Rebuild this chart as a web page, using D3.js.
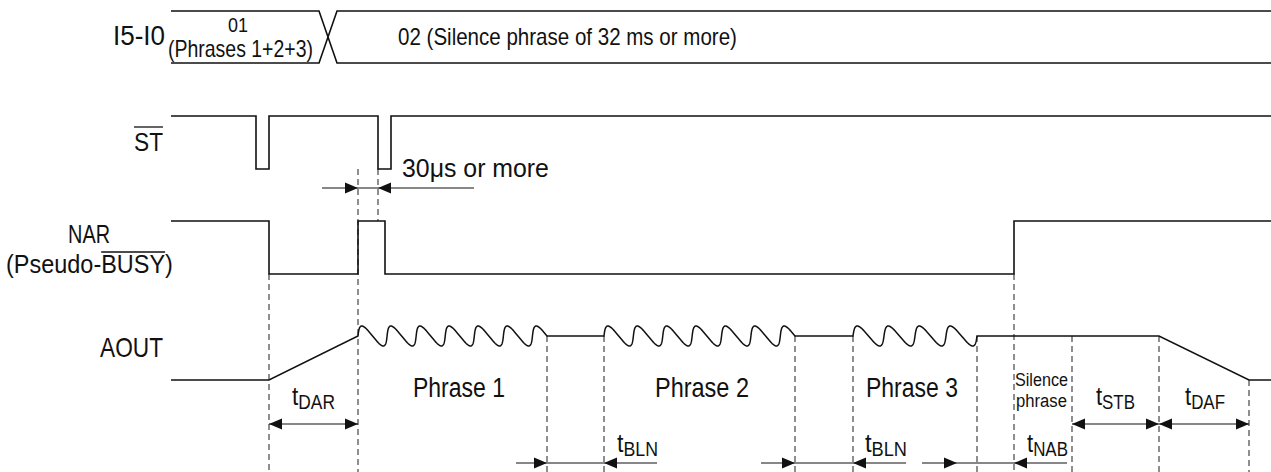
<!DOCTYPE html>
<html>
<head>
<meta charset="utf-8">
<script src="https://cdn.jsdelivr.net/npm/d3@7"></script>
<style>
  html, body { margin: 0; padding: 0; background: #fff; }
  svg { display: block; }
  text { font-family: "Liberation Sans", Arial, sans-serif; fill: #111; }
</style>
</head>
<body>
<svg id="chart" width="1271" height="472"></svg>
<script>
// time runs in arbitrary units along the diagram
var busChanges = [157];
var busLabels = ["01", "(Phrases 1+2+3)", "02 (Silence phrase of 32 ms or more)"];
var stLevels = [[0, 1], [85, 0], [98, 1], [207, 0], [220, 1], [1100, 1]];
var narLevels = [[0, 1], [98, 0], [187, 1], [214, 0], [843, 1], [1100, 1]];
var aoutStart = [[0, 0], [98, 0], [187, 1]];
var aoutEnd = [[988, 1], [1078, 0], [1100, 0]];
var phrases = [
  { name: "Phrase 1", from: 187, to: 376, halfCycles: 13, label: 242 },
  { name: "Phrase 2", from: 433, to: 624, halfCycles: 13, label: 484 },
  { name: "Phrase 3", from: 682, to: 806, halfCycles: 8, label: 695 }
];
var signalNames = ["I5-I0", "ST", "NAR", "(Pseudo-BUSY)", "AOUT"];

// dashed guides: time, row it starts from
var guides = [
  [98, "narLo"], [187, "stLo"], [207, "stLo", "narHi"],
  [376, "aoutHi"], [433, "aoutHi"], [624, "aoutHi"], [682, "aoutHi"], [806, "aoutHi"],
  [843, "narLo"], [901, "aoutHi"], [988, "aoutHi"], [1078, "aoutLo"]
];

// dimension arrows: row, line from, line to, heads [time, direction]
var dims = [
  ["pulse", 151, 303, [[187, 1], [207, -1]]],
  ["upper", 98, 187, [[98, -1], [187, 1]]],
  ["upper", 901, 988, [[901, -1], [988, 1]]],
  ["upper", 988, 1078, [[988, -1], [1078, 1]]],
  ["lower", 345, 486, [[376, 1], [433, -1]]],
  ["lower", 590, 735, [[624, 1], [682, -1]]],
  ["lower", 751, 896, [[786, 1], [843, -1]]]
];
var timingLabels = [
  ["DAR", 121, "upper"], ["STB", 925, "upper"], ["DAF", 1014, "upper"],
  ["BLN", 446, "lower"], ["BLN", 694, "lower"], ["NAB", 856, "lower"]
];

var svg = d3.select("#chart");
var x = d3.scaleLinear().domain([0, 1100]).range([171, 1271]);

var Y = {
  busHi: 11, busLo: 63, stHi: 116, stLo: 169, narHi: 221, narLo: 274,
  aoutHi: 336, aoutLo: 380, pulse: 188, upper: 424, lower: 463, bottom: 472
};
var yST = d3.scaleLinear().domain([0, 1]).range([Y.stLo, Y.stHi]);
var yNAR = d3.scaleLinear().domain([0, 1]).range([Y.narLo, Y.narHi]);
var yAOUT = d3.scaleLinear().domain([0, 1]).range([Y.aoutLo, Y.aoutHi]);

var gGuide = svg.append("g");
var gSig = svg.append("g").attr("fill", "none").attr("stroke", "#111").attr("stroke-width", 1.6);
var gDim = svg.append("g");
var gText = svg.append("g");

// guides
guides.forEach(function (d) {
  gGuide.append("line")
    .attr("x1", x(d[0])).attr("x2", x(d[0]))
    .attr("y1", Y[d[1]]).attr("y2", d[2] ? Y[d[2]] : Y.bottom)
    .attr("stroke", "#333").attr("stroke-width", 1.1)
    .attr("stroke-dasharray", "6,4");
});

// bus
var half = 9, tc = busChanges[0];
gSig.append("path").attr("d", d3.line()([
  [x(0), Y.busHi], [x(tc - half), Y.busHi], [x(tc + half), Y.busLo], [x(1100), Y.busLo]
]));
gSig.append("path").attr("d", d3.line()([
  [x(0), Y.busLo], [x(tc - half), Y.busLo], [x(tc + half), Y.busHi], [x(1100), Y.busHi]
]));

// ST and NAR
gSig.append("path").attr("d", d3.line().curve(d3.curveStepAfter)
  .x(function (d) { return x(d[0]); }).y(function (d) { return yST(d[1]); })(stLevels));
gSig.append("path").attr("d", d3.line().curve(d3.curveStepAfter)
  .x(function (d) { return x(d[0]); }).y(function (d) { return yNAR(d[1]); })(narLevels));

// AOUT
var pts = aoutStart.map(function (d) { return [x(d[0]), yAOUT(d[1])]; });
var amp = 10, skew = 3.5;
phrases.forEach(function (p) {
  var k = (p.to - p.from) / (p.halfCycles * Math.PI);
  var tEnd = Math.PI * (p.halfCycles + 1);
  for (var t = Math.PI; t <= tEnd + 1e-6; t += Math.PI / 30) {
    var tx = p.from + k * (t - Math.PI) + skew * Math.sin(t);
    pts.push([x(tx), yAOUT(1) + amp * Math.sin(t)]);
  }
});
aoutEnd.forEach(function (d) { pts.push([x(d[0]), yAOUT(d[1])]); });
gSig.append("path").attr("stroke-width", 1.5).attr("d", d3.line()(pts));

// dimension arrows
dims.forEach(function (d) {
  var yy = Y[d[0]];
  gDim.append("line").attr("x1", x(d[1])).attr("x2", x(d[2]))
    .attr("y1", yy).attr("y2", yy).attr("stroke", "#111").attr("stroke-width", 1.2);
  d[3].forEach(function (h) {
    var tip = x(h[0]), dir = h[1];
    gDim.append("path").attr("fill", "#111")
      .attr("d", "M" + tip + "," + yy + "L" + (tip - dir * 13) + "," + (yy - 5.5) +
        "L" + (tip - dir * 13) + "," + (yy + 5.5) + "Z");
  });
});

// condensed text: Liberation Sans squeezed horizontally to the width it has in the drawing
function label(txt, px, py, size, anchor, width, build) {
  var t = gText.append("text")
    .attr("font-size", size).attr("text-anchor", anchor || "start");
  if (build) build(t); else t.text(txt);
  var sx = width / t.node().getComputedTextLength();
  t.attr("transform", "translate(" + px + "," + py + ") scale(" + sx + ",1)");
  t.datum({ px: px, sx: sx });
  return t;
}
function overline(t, start, count, yy) {
  var n = t.node(), m = t.datum();
  var a = n.getExtentOfChar(start);
  var b = n.getExtentOfChar(start + count - 1);
  gText.append("line")
    .attr("x1", m.px + a.x * m.sx).attr("x2", m.px + (b.x + b.width) * m.sx)
    .attr("y1", yy).attr("y2", yy).attr("stroke", "#111").attr("stroke-width", 1.3);
}

label(signalNames[0], 165, 45, 28, "end", 52);
var st = label(signalNames[1], 163, 151, 25, "end", 29);
overline(st, 0, 2, 127);
label(signalNames[2], 89, 243, 25, "middle", 42);
var pb = label(signalNames[3], 6, 273, 25, "start", 167);
overline(pb, 8, 4, 252);
label(signalNames[4], 163, 357, 28, "end", 63);

// bus texts
label(busLabels[0], 238, 32, 21, "middle", 20);
label(busLabels[1], 168, 57, 23, "start", 145);
label(busLabels[2], 398, 45, 23, "start", 339);

label("30\u03bcs or more", 402, 177, 26.5, "start", 147);

var phraseWidths = [92, 94, 92];
phrases.forEach(function (p, i) { label(p.name, x(p.label), 397, 28, "start", phraseWidths[i]); });
label("Silence", x(844), 386, 19, "start", 53);
label("phrase", x(845), 407, 19, "start", 51);

var timingWidths = [43, 39, 40, 41, 42, 41];
timingLabels.forEach(function (d, i) {
  var by = d[2] === "upper" ? 405 : 452;
  label(null, x(d[1]), by, 26, "start", timingWidths[i], function (t) {
    t.append("tspan").text("t");
    t.append("tspan").attr("font-size", 20).attr("dy", 4).text(d[0]);
  });
});
</script>
</body>
</html>
